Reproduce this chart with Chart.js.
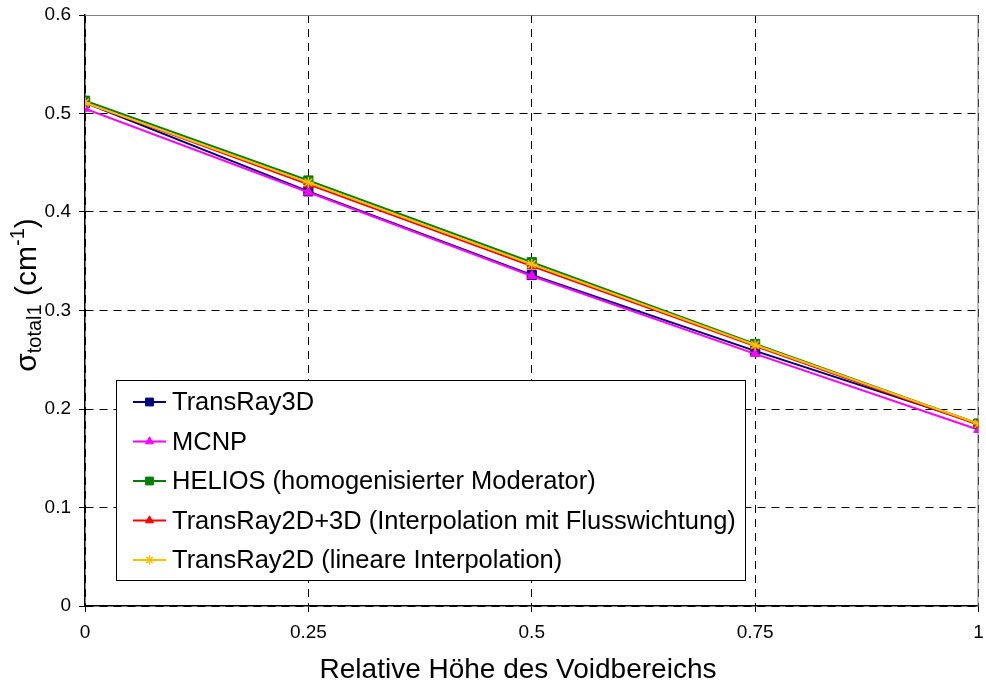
<!DOCTYPE html>
<html>
<head>
<meta charset="utf-8">
<script src="https://cdn.jsdelivr.net/npm/chart.js@4.4.0/dist/chart.umd.min.js"></script>
<style>
  html, body { margin: 0; padding: 0; background: #ffffff; }
  #wrap { width: 986px; height: 684px; }
</style>
</head>
<body>
<div id="wrap"><canvas id="c" width="986" height="684"></canvas></div>
<script>
// Relative height of the void region (x axis)
const xValues = [0, 0.25, 0.5, 0.75, 1];
const xTickLabels = ['0', '0.25', '0.5', '0.75', '1'];
const yTickValues = [0, 0.1, 0.2, 0.3, 0.4, 0.5, 0.6];
const yTickLabels = ['0', '0.1', '0.2', '0.3', '0.4', '0.5', '0.6'];

const seriesNames = [
  'TransRay3D',
  'MCNP',
  'HELIOS (homogenisierter Moderator)',
  'TransRay2D+3D (Interpolation mit Flusswichtung)',
  'TransRay2D (lineare Interpolation)'
];

// Total cross section, group 1 (cm^-1)
const transRay3D   = [0.511, 0.421, 0.336, 0.259, 0.185];
const mcnp         = [0.505, 0.420, 0.335, 0.256, 0.179];
const helios       = [0.513, 0.432, 0.349, 0.266, 0.185];
const transRay2D3D = [0.511, 0.428, 0.345, 0.264, 0.184];
const transRay2D   = [0.511, 0.430, 0.347, 0.265, 0.185];

const FONT = '"Liberation Sans", Arial, sans-serif';

const seriesStyle = [
  { color: '#000080', point: 'rect',     radius: 6.5 },
  { color: '#FF00FF', point: 'triangle', radius: 5.5 },
  { color: '#008000', point: 'rect',     radius: 6.5 },
  { color: '#FF0000', point: 'triangle', radius: 5.5 },
  { color: '#FFC000', point: 'star',     radius: 5.5 }
];
const seriesValues = [transRay3D, mcnp, helios, transRay2D3D, transRay2D];

const datasets = seriesValues.map((vals, i) => ({
  label: seriesNames[i],
  data: xValues.map((x, j) => ({ x: x, y: vals[j] })),
  borderColor: seriesStyle[i].color,
  backgroundColor: seriesStyle[i].color,
  borderWidth: 2,
  pointStyle: seriesStyle[i].point,
  pointRadius: seriesStyle[i].radius,
  pointBorderWidth: seriesStyle[i].point === 'star' ? 1.5 : 1,
  pointBackgroundColor: seriesStyle[i].color,
  pointBorderColor: seriesStyle[i].color,
  tension: 0,
  order: seriesValues.length - i
}));

// Grey frame along the top and right of the plot area
const frame = {
  id: 'frame',
  beforeDatasetsDraw(chart) {
    const { ctx, chartArea: a } = chart;
    ctx.save();
    ctx.strokeStyle = '#808080';
    ctx.lineWidth = 1;
    ctx.setLineDash([]);
    ctx.beginPath();
    ctx.moveTo(a.left, a.top + 0.5);
    ctx.lineTo(a.right - 0.5, a.top + 0.5);
    ctx.lineTo(a.right - 0.5, a.bottom);
    ctx.stroke();
    ctx.restore();
  }
};

// Axis titles (the y title needs sub- and superscripts)
const axisTitles = {
  id: 'axisTitles',
  afterDraw(chart) {
    const { ctx } = chart;
    ctx.save();
    ctx.fillStyle = '#000';
    ctx.textBaseline = 'alphabetic';
    ctx.font = '28px ' + FONT;
    ctx.textAlign = 'center';
    ctx.fillText('Relative Höhe des Voidbereichs', 518, 678);

    const parts = [
      { t: '\u03C3', size: 30, dy: 0 },
      { t: 'total1', size: 20, dy: 5 },
      { t: ' (cm', size: 30, dy: 0 },
      { t: '-1', size: 20, dy: -12 },
      { t: ')', size: 30, dy: 0 }
    ];
    let total = 0;
    parts.forEach(p => { ctx.font = p.size + 'px ' + FONT; p.w = ctx.measureText(p.t).width; total += p.w; });
    ctx.translate(36, 295);
    ctx.rotate(-Math.PI / 2);
    ctx.textAlign = 'left';
    let x = -total / 2;
    parts.forEach(p => {
      ctx.font = p.size + 'px ' + FONT;
      ctx.fillText(p.t, x, p.dy);
      x += p.w;
    });
    ctx.restore();
  }
};

// Boxed legend inside the plot area
const boxLegend = {
  id: 'boxLegend',
  afterDraw(chart) {
    const { ctx } = chart;
    const box = { x: 116.5, y: 380.5, w: 629, h: 200 };
    ctx.save();
    ctx.fillStyle = '#ffffff';
    ctx.fillRect(box.x, box.y, box.w, box.h);
    ctx.strokeStyle = '#000';
    ctx.lineWidth = 1;
    ctx.setLineDash([]);
    ctx.strokeRect(box.x, box.y, box.w, box.h);
    ctx.font = '25.5px ' + FONT;
    ctx.textBaseline = 'middle';
    ctx.textAlign = 'left';
    chart.data.datasets.forEach((ds, i) => {
      const cy = 402 + i * 39.5;
      ctx.strokeStyle = ds.borderColor;
      ctx.lineWidth = 2;
      ctx.beginPath();
      ctx.moveTo(133, cy);
      ctx.lineTo(166, cy);
      ctx.stroke();
      ctx.fillStyle = ds.pointBackgroundColor;
      ctx.strokeStyle = ds.pointBorderColor;
      ctx.lineWidth = ds.pointBorderWidth;
      Chart.helpers.drawPoint(ctx, {
        pointStyle: ds.pointStyle,
        radius: ds.pointRadius * 0.85,
        rotation: 0,
        borderWidth: ds.pointBorderWidth
      }, 149.5, cy);
      ctx.fillStyle = '#000';
      ctx.fillText(ds.label, 172, cy + 1);
    });
    ctx.restore();
  }
};

const gridOpts = {
  color: '#000',
  lineWidth: 1,
  drawTicks: true,
  tickLength: 6,
  tickColor: '#000',
  tickBorderDash: []
};

new Chart(document.getElementById('c'), {
  type: 'line',
  data: { datasets: datasets },
  plugins: [frame, axisTitles, boxLegend],
  options: {
    responsive: false,
    animation: false,
    devicePixelRatio: 1,
    layout: { padding: { top: 15, right: 0, left: 0, bottom: 0 } },
    plugins: {
      legend: { display: false },
      tooltip: { enabled: false },
      title: { display: false }
    },
    scales: {
      x: {
        type: 'linear',
        min: 0,
        max: 1,
        afterBuildTicks(scale) { scale.ticks = xValues.map(v => ({ value: v })); },
        afterFit(scale) { scale.height = 78; scale.paddingLeft = 0; scale.paddingRight = 0; },
        ticks: {
          callback: (v) => xTickLabels[xValues.indexOf(v)],
          color: '#000',
          font: { family: FONT, size: 19 },
          padding: 9,
          maxRotation: 0,
          autoSkip: false
        },
        grid: gridOpts,
        border: { display: true, color: '#000', width: 1.5, dash: [8, 6] }
      },
      y: {
        type: 'linear',
        min: 0,
        max: 0.6,
        afterBuildTicks(scale) { scale.ticks = yTickValues.map(v => ({ value: v })); },
        afterFit(scale) { scale.width = 85; scale.paddingTop = 0; scale.paddingBottom = 0; },
        ticks: {
          callback: (v) => yTickLabels[yTickValues.indexOf(v)],
          color: '#000',
          font: { family: FONT, size: 19 },
          padding: 8,
          autoSkip: false
        },
        grid: gridOpts,
        border: { display: true, color: '#000', width: 1.5, dash: [8, 6] }
      }
    }
  }
});
</script>
</body>
</html>
